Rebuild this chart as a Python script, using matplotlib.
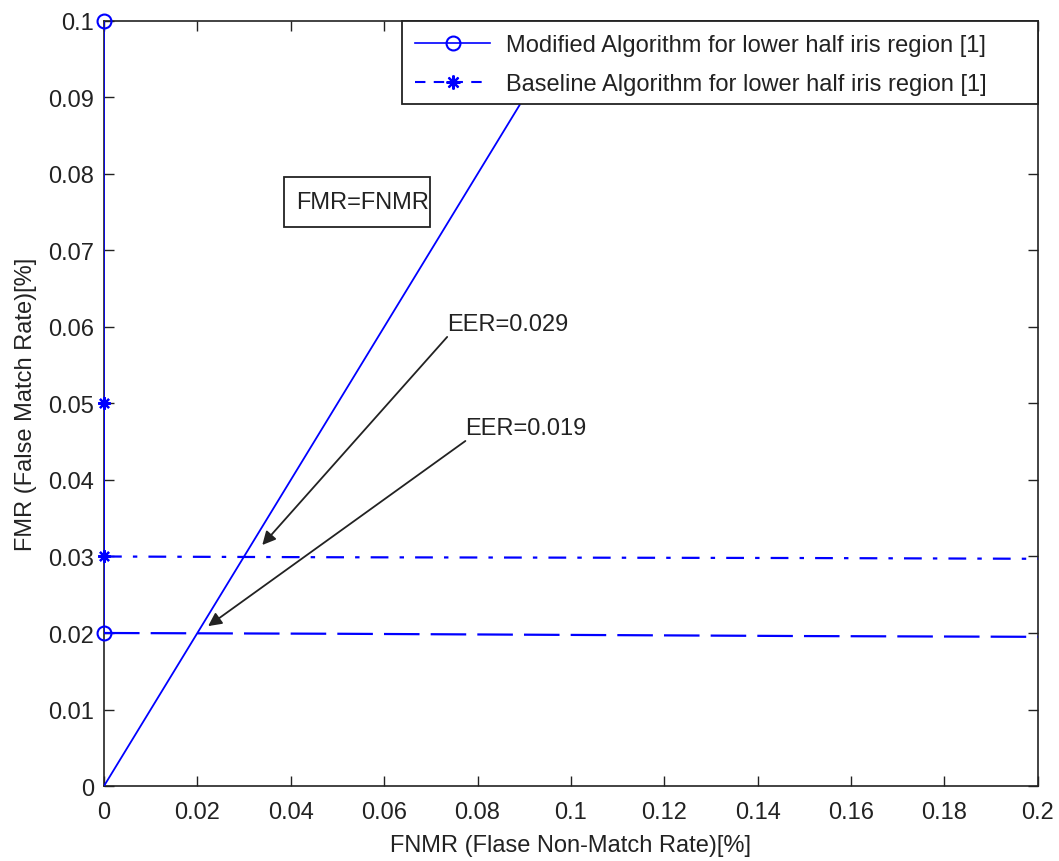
import matplotlib
matplotlib.use("Agg")
import matplotlib.pyplot as plt
from matplotlib.lines import Line2D
from matplotlib.patches import Rectangle

plt.rcParams['font.family'] = ['Liberation Sans', 'DejaVu Sans']

# Data
diag_x = [0.0, 0.1]
diag_y = [0.0, 0.1]

mod_x = [0.0, 0.0, 0.05, 0.15, 0.2]
mod_y = [0.1, 0.02, 0.0199, 0.0196, 0.0195]

base_x = [0.0, 0.0, 0.05, 0.15, 0.2]
base_y = [0.05, 0.03, 0.0299, 0.0298, 0.0297]

xticks = [0, 0.02, 0.04, 0.06, 0.08, 0.1, 0.12, 0.14, 0.16, 0.18, 0.2]
xticklabels = ['0', '0.02', '0.04', '0.06', '0.08', '0.1', '0.12', '0.14', '0.16', '0.18', '0.2']
yticks = [0, 0.01, 0.02, 0.03, 0.04, 0.05, 0.06, 0.07, 0.08, 0.09, 0.1]
yticklabels = ['0', '0.01', '0.02', '0.03', '0.04', '0.05', '0.06', '0.07', '0.08', '0.09', '0.1']

legend_labels = ['Modified Algorithm for lower half iris region [1]',
                 'Baseline Algorithm for lower half iris region [1]']

eer_mod_text = 'EER=0.029'
eer_base_text = 'EER=0.019'
eer_mod_point = (0.0339, 0.0315)
eer_base_point = (0.0223, 0.0209)
eer_mod_textpos = (0.0735, 0.0587)
eer_base_textpos = (0.0774, 0.0451)

box_text = 'FMR=FNMR'
box_x0, box_x1 = 0.0385, 0.0698
box_y0, box_y1 = 0.0731, 0.0796
box_text_x = 0.0412

BLUE = '#0000ff'
DARK = '#222222'
ASTERISK = (8, 2, 0)

fig = plt.figure(figsize=(10.59, 8.62), dpi=100)
ax = fig.add_axes([0.0982, 0.087, 0.8818, 0.8875])

# diagonal FMR = FNMR
ax.plot(diag_x, diag_y, '-', color=BLUE, lw=1.3, zorder=3)

# Modified algorithm
ax.plot(mod_x[:2], mod_y[:2], '-', color=BLUE, lw=1.2, zorder=3)
ax.plot(mod_x[1:], mod_y[1:], color=BLUE, lw=1.6, dashes=(16, 5), zorder=3)
ax.plot(mod_x[:2], mod_y[:2], 'o', color=BLUE, mfc='none', ms=10, mew=1.5, zorder=4,
        clip_on=False)

# Baseline algorithm
ax.plot(base_x[:2], base_y[:2], '-', color=BLUE, lw=1.2, zorder=3)
ax.plot(base_x[1:], base_y[1:], color=BLUE, lw=1.6, dashes=(8, 5, 2, 5), zorder=3)
ax.plot(base_x[:2], base_y[:2], marker=ASTERISK, ls='none', color=BLUE, ms=9, mew=1.6,
        zorder=4, clip_on=False)

ax.set_xlim(0, 0.2)
ax.set_ylim(0, 0.1)
ax.set_xticks(xticks)
ax.set_xticklabels(xticklabels)
ax.set_yticks(yticks)
ax.set_yticklabels(yticklabels)
ax.tick_params(direction='in', length=7, width=1, top=True, right=True,
               labelsize=17, colors=DARK)
ax.tick_params(axis='y', pad=7)
ax.tick_params(axis='x', pad=11)
for s in ax.spines.values():
    s.set_color(DARK)
    s.set_linewidth(1.2)

ax.set_xlabel('FNMR (Flase Non-Match Rate)[%]', fontsize=17, color=DARK, labelpad=8)
ax.set_ylabel('FMR (False Match Rate)[%]', fontsize=17, color=DARK, labelpad=8)

# annotations
ax.annotate('', xy=eer_mod_point, xytext=eer_mod_textpos,
            arrowprops=dict(arrowstyle='-|>', color=DARK, lw=1.3,
                            mutation_scale=20, shrinkA=0, shrinkB=0), zorder=5)
ax.text(eer_mod_textpos[0], eer_mod_textpos[1] + 0.0003, eer_mod_text, fontsize=17,
        color=DARK, ha='left', va='bottom')
ax.annotate('', xy=eer_base_point, xytext=eer_base_textpos,
            arrowprops=dict(arrowstyle='-|>', color=DARK, lw=1.3,
                            mutation_scale=20, shrinkA=0, shrinkB=0), zorder=5)
ax.text(eer_base_textpos[0], eer_base_textpos[1] + 0.0003, eer_base_text, fontsize=17,
        color=DARK, ha='left', va='bottom')

# FMR=FNMR text box
ax.add_patch(Rectangle((box_x0, box_y0), box_x1 - box_x0, box_y1 - box_y0,
                       fc='white', ec=DARK, lw=1.3, zorder=6))
ax.text(box_text_x, (box_y0 + box_y1) / 2, box_text, fontsize=17, color=DARK,
        ha='left', va='center', zorder=7)

# legend with MATLAB-like wide frame
leg_x0, leg_y0 = 0.319, 0.892
ax.add_patch(Rectangle((leg_x0, leg_y0), 1 - leg_x0, 1 - leg_y0, transform=ax.transAxes,
                       fc='white', ec=DARK, lw=1.3, zorder=9, clip_on=False))
handles = [Line2D([], [], color=BLUE, lw=1.2, marker='o', mfc='none', ms=10, mew=1.5),
           Line2D([], [], color=BLUE, lw=1.5, dashes=(5, 4), marker=ASTERISK, ms=10,
                  mew=1.6)]
leg = ax.legend(handles, legend_labels, loc='upper left', bbox_to_anchor=(leg_x0, 1.0),
                borderaxespad=0, frameon=False, fontsize=17,
                handlelength=3.2, borderpad=0.55, labelspacing=0.72, handletextpad=0.65)
leg.set_zorder(10)
for t in leg.get_texts():
    t.set_color(DARK)

fig.savefig('out.png', dpi=100)
